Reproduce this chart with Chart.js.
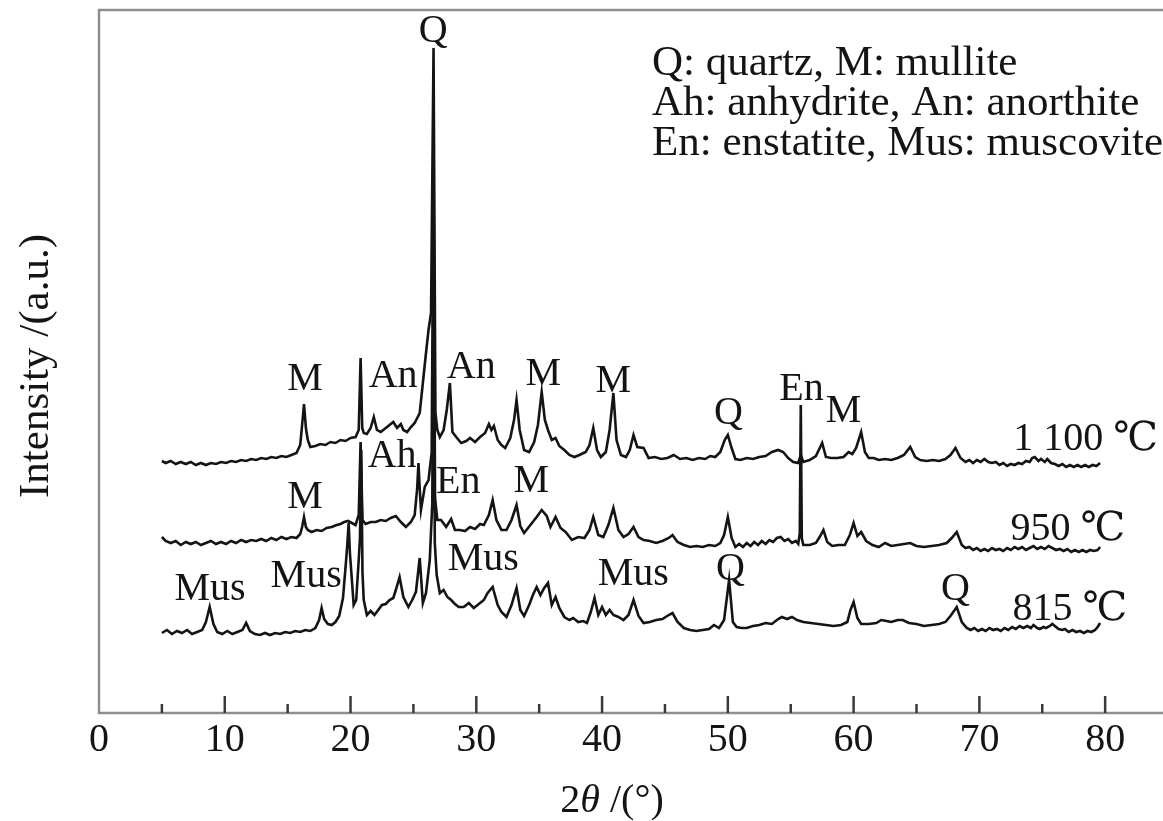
<!DOCTYPE html>
<html>
<head>
<meta charset="utf-8">
<script src="https://cdn.jsdelivr.net/npm/chart.js@4.4.1/dist/chart.umd.min.js"></script>
<style>
html,body{margin:0;padding:0;background:#fff;overflow:hidden}
canvas{display:block}
</style>
</head>
<body>
<canvas id="xrd" width="1163" height="821"></canvas>
<script>
// XRD patterns, [2theta, intensity a.u.] - traces are stacked (offset already in values)
const xrd815 = [[5.0,80],[5.4,83],[5.8,79],[6.2,82],[6.6,80],[7.0,83],[7.4,79],[7.8,81],[8.2,83],[8.5,91],[8.8,106],[9.1,89],[9.4,81],[9.8,79],[10.2,82],[10.6,79],[11.0,81],[11.4,83],[11.7,90],[12.0,82],[12.4,79],[12.8,78],[13.2,80],[13.6,78],[14.0,80],[14.4,79],[14.8,81],[15.2,80],[15.6,82],[16.0,81],[16.4,83],[16.8,82],[17.2,85],[17.5,93],[17.7,105],[17.9,94],[18.2,89],[18.5,88],[18.8,91],[19.1,97],[19.4,115],[19.65,153],[19.75,170],[19.85,190],[19.95,160],[20.05,143],[20.25,108],[20.45,113],[20.65,153],[20.75,175],[20.85,263],[20.95,140],[21.05,113],[21.3,98],[21.6,102],[21.9,98],[22.2,103],[22.5,108],[22.8,109],[23.1,113],[23.4,115],[23.6,123],[23.9,136],[24.2,116],[24.6,106],[24.9,113],[25.2,121],[25.5,155],[25.75,110],[26.0,120],[26.3,153],[26.5,210],[26.6,450],[26.7,170],[26.85,138],[27.1,120],[27.4,123],[27.7,116],[28.0,113],[28.3,109],[28.6,106],[29.0,106],[29.4,110],[29.8,105],[30.2,109],[30.6,113],[30.9,120],[31.3,126],[31.7,108],[32.0,101],[32.4,96],[32.8,108],[33.2,125],[33.5,103],[33.8,97],[34.2,108],[34.5,118],[34.8,126],[35.1,118],[35.4,125],[35.7,130],[36.0,108],[36.3,116],[36.6,105],[37.0,96],[37.4,93],[37.7,95],[38.1,91],[38.5,92],[38.8,90],[39.1,101],[39.4,115],[39.7,98],[40.0,106],[40.3,98],[40.6,103],[40.9,98],[41.3,96],[41.7,93],[42.1,98],[42.5,113],[42.9,97],[43.3,90],[43.8,91],[44.3,93],[44.8,94],[45.3,98],[45.6,100],[46.0,91],[46.5,85],[47.0,83],[47.5,82],[48.0,83],[48.5,84],[48.9,88],[49.3,85],[49.7,93],[50.1,133],[50.4,91],[50.7,86],[51.1,85],[51.5,85],[52.0,87],[52.5,88],[53.0,90],[53.5,89],[54.0,94],[54.3,96],[54.7,94],[55.1,96],[55.5,93],[56.0,91],[56.6,90],[57.2,89],[57.8,88],[58.4,87],[59.0,88],[59.5,91],[59.75,103],[60.0,111],[60.3,95],[60.6,89],[61.2,89],[61.8,90],[62.2,93],[62.6,92],[63.0,91],[63.5,93],[63.9,93],[64.4,90],[65.0,89],[65.6,87],[66.2,88],[66.8,89],[67.3,91],[67.7,97],[68.2,106],[68.6,91],[69.0,85],[69.3,83],[69.6,85],[69.9,82],[70.2,84],[70.5,82],[70.8,85],[71.1,83],[71.4,84],[71.7,82],[72.0,85],[72.3,83],[72.6,86],[72.9,84],[73.2,87],[73.5,85],[73.8,87],[74.1,85],[74.3,88],[74.6,85],[74.8,84],[75.1,86],[75.3,85],[75.6,87],[75.8,89],[76.1,86],[76.3,84],[76.6,83],[76.8,84],[77.1,81],[77.4,83],[77.7,81],[78.0,82],[78.3,80],[78.6,82],[78.9,81],[79.2,83],[79.4,86],[79.6,90]];

const xrd950 = [[5.0,176],[5.3,172],[5.7,170],[6.1,172],[6.5,168],[6.9,171],[7.3,169],[7.7,171],[8.1,168],[8.5,170],[8.9,172],[9.3,169],[9.7,171],[10.1,169],[10.5,172],[10.9,170],[11.3,173],[11.7,171],[12.1,173],[12.5,172],[12.9,174],[13.3,172],[13.7,175],[14.1,173],[14.5,176],[14.9,174],[15.3,176],[15.7,175],[16.0,179],[16.15,186],[16.3,196],[16.45,186],[16.6,183],[16.9,181],[17.3,183],[17.7,182],[18.1,185],[18.5,186],[18.9,188],[19.2,189],[19.5,191],[19.8,192],[20.1,190],[20.4,188],[20.65,198],[20.8,271],[20.95,193],[21.2,189],[21.6,191],[22.0,191],[22.4,193],[22.8,192],[23.2,195],[23.6,197],[24.0,191],[24.4,186],[24.8,191],[25.1,198],[25.3,225],[25.4,250],[25.5,225],[25.6,203],[25.9,226],[26.2,233],[26.45,260],[26.6,546],[26.72,215],[26.9,193],[27.2,193],[27.6,186],[28.0,194],[28.3,183],[28.7,183],[29.1,182],[29.5,186],[29.9,184],[30.3,189],[30.6,188],[31.0,198],[31.3,213],[31.6,193],[32.0,183],[32.4,183],[32.8,193],[33.2,208],[33.5,187],[33.8,180],[34.3,188],[34.8,196],[35.2,203],[35.6,197],[35.9,186],[36.3,196],[36.7,185],[37.1,181],[37.6,173],[38.1,176],[38.6,175],[39.0,183],[39.3,196],[39.7,178],[40.1,176],[40.5,188],[40.9,205],[41.3,183],[41.7,176],[42.1,179],[42.5,186],[42.9,176],[43.3,173],[43.8,172],[44.3,170],[44.8,172],[45.3,175],[45.6,178],[46.0,171],[46.5,168],[47.0,166],[47.5,167],[48.0,166],[48.5,168],[49.0,167],[49.4,170],[49.7,178],[50.0,196],[50.3,175],[50.6,166],[50.9,169],[51.2,166],[51.5,170],[51.8,167],[52.1,171],[52.4,168],[52.7,172],[53.0,169],[53.3,173],[53.6,171],[53.9,175],[54.2,176],[54.5,172],[54.8,174],[55.1,170],[55.4,172],[55.6,169],[55.72,180],[55.8,308],[55.88,175],[56.0,168],[56.5,168],[57.0,170],[57.3,176],[57.6,183],[57.9,171],[58.3,167],[58.8,168],[59.3,168],[59.7,178],[60.0,190],[60.3,177],[60.6,181],[61.0,172],[61.5,168],[62.0,166],[62.5,170],[63.0,167],[63.5,168],[64.0,169],[64.5,170],[65.0,167],[65.6,166],[66.2,167],[66.8,168],[67.4,170],[67.8,175],[68.2,181],[68.6,168],[68.9,165],[69.2,166],[69.5,163],[69.8,165],[70.1,162],[70.4,164],[70.7,162],[71.0,165],[71.3,163],[71.6,164],[71.9,162],[72.2,165],[72.5,163],[72.8,166],[73.1,164],[73.4,166],[73.7,163],[74.0,165],[74.3,167],[74.6,164],[74.9,166],[75.2,164],[75.5,167],[75.8,165],[76.1,163],[76.4,164],[76.7,162],[77.0,164],[77.3,161],[77.6,163],[77.9,161],[78.2,163],[78.5,161],[78.8,163],[79.1,162],[79.4,163],[79.6,166]];

const xrd1100 = [[5.0,252],[5.3,250],[5.7,252],[6.1,249],[6.5,251],[6.9,249],[7.3,251],[7.7,248],[8.1,250],[8.5,248],[8.9,250],[9.3,249],[9.7,251],[10.1,250],[10.5,252],[10.9,251],[11.3,253],[11.7,252],[12.1,254],[12.5,253],[12.9,255],[13.3,254],[13.7,256],[14.1,255],[14.5,257],[14.9,256],[15.3,258],[15.7,260],[16.0,268],[16.15,288],[16.3,309],[16.45,285],[16.6,273],[16.8,266],[17.2,267],[17.6,269],[18.0,268],[18.4,271],[18.8,270],[19.2,273],[19.6,272],[20.0,275],[20.4,276],[20.65,283],[20.8,355],[20.93,285],[21.05,280],[21.3,279],[21.6,285],[21.85,296],[22.1,283],[22.4,281],[22.8,285],[23.1,288],[23.4,291],[23.7,285],[24.0,289],[24.2,283],[24.5,281],[24.8,286],[25.1,290],[25.5,300],[25.75,330],[26.0,360],[26.2,383],[26.4,400],[26.6,665],[26.75,300],[26.9,283],[27.1,276],[27.4,283],[27.65,303],[27.9,330],[28.1,281],[28.4,276],[28.8,270],[29.2,272],[29.5,275],[29.9,271],[30.3,276],[30.7,280],[31.0,289],[31.2,283],[31.4,287],[31.7,273],[32.0,268],[32.3,265],[32.7,275],[33.0,293],[33.2,313],[33.45,283],[33.8,263],[34.2,261],[34.6,271],[34.9,288],[35.2,321],[35.45,293],[35.7,283],[36.0,273],[36.3,275],[36.6,267],[37.0,263],[37.4,258],[37.8,256],[38.2,258],[38.7,261],[39.0,268],[39.3,285],[39.6,263],[39.9,256],[40.3,261],[40.6,283],[40.9,320],[41.15,273],[41.5,258],[41.9,256],[42.2,263],[42.5,278],[42.8,266],[43.3,265],[43.7,255],[44.2,256],[44.7,254],[45.2,255],[45.7,258],[46.2,254],[46.7,255],[47.2,253],[47.7,255],[48.2,254],[48.6,257],[49.0,256],[49.4,261],[49.75,273],[50.0,278],[50.3,265],[50.6,254],[51.0,253],[51.5,255],[52.0,254],[52.5,256],[53.0,257],[53.5,261],[54.0,263],[54.4,261],[54.8,255],[55.2,251],[55.6,250],[55.8,258],[56.0,251],[56.5,253],[57.0,257],[57.5,270],[57.8,256],[58.2,255],[58.7,255],[59.2,256],[59.6,261],[59.9,259],[60.2,265],[60.6,281],[60.9,261],[61.2,255],[61.6,255],[62.0,253],[62.5,254],[63.0,253],[63.5,255],[64.0,258],[64.5,266],[64.9,256],[65.3,253],[65.8,252],[66.3,253],[66.8,252],[67.3,254],[67.7,258],[68.1,265],[68.5,255],[68.9,251],[69.2,253],[69.5,250],[69.8,253],[70.1,251],[70.4,254],[70.7,251],[71.0,250],[71.3,251],[71.6,248],[71.9,250],[72.2,247],[72.5,249],[72.8,248],[73.1,250],[73.4,249],[73.7,252],[74.0,251],[74.2,255],[74.4,256],[74.7,252],[74.9,254],[75.2,251],[75.4,254],[75.7,250],[76.0,249],[76.3,247],[76.6,249],[76.9,246],[77.2,248],[77.5,246],[77.8,248],[78.1,246],[78.4,248],[78.7,246],[79.0,248],[79.3,247],[79.6,250]];

const xTicks = [0,10,20,30,40,50,60,70,80];

// phase labels: [text, 2theta, intensity (baseline of text)]
const peakLabels = [
  ["Q",26.57,671],["M",16.39,323],["An",23.39,326],["An",29.6,335],["M",35.32,328],["M",40.89,321],
  ["Q",50.04,289],["En",55.85,313],["M",59.19,291],
  ["M",16.39,205],["Ah",23.31,246],["En",28.56,220],["M",34.37,221],
  ["Mus",8.83,113],["Mus",16.47,126],["Mus",30.55,143],["Mus",42.48,128],["Q",50.2,133],["Q",68.1,113]
];
const tempLabels = [["1 100 \u2103",72.7,263],["950 \u2103",72.47,173],["815 \u2103",72.63,93]];
const legendLines = ["Q: quartz, M: mullite","Ah: anhydrite, An: anorthite","En: enstatite, Mus: muscovite"];

const SERIF = '"Liberation Serif","Times New Roman","DejaVu Serif",serif';
const INK = '#141414';

const decor = {
  id:'decor',
  afterDraw(chart){
    const {ctx, chartArea:a, scales:{x,y}} = chart;
    ctx.save();
    // frame (no right side visible)
    ctx.strokeStyle='#8e8e8e';
    ctx.lineWidth=2.5;
    ctx.beginPath();
    ctx.moveTo(chart.width,a.top);
    ctx.lineTo(a.left,a.top);
    ctx.lineTo(a.left,a.bottom);
    ctx.lineTo(chart.width,a.bottom);
    ctx.stroke();

    // inward ticks
    ctx.strokeStyle='#3a3a3a';
    ctx.lineWidth=2.5;
    for(let v=5; v<=x.max; v+=5){
      const px=x.getPixelForValue(v);
      const len=(v%10===0)?17:9;
      ctx.beginPath();
      ctx.moveTo(px,a.bottom);
      ctx.lineTo(px,a.bottom-len);
      ctx.stroke();
    }

    ctx.fillStyle=INK;
    ctx.textBaseline='alphabetic';
    ctx.font='40px '+SERIF;
    ctx.textAlign='center';
    peakLabels.forEach(([t,tx,ty])=>{
      ctx.fillText(t,x.getPixelForValue(tx),y.getPixelForValue(ty));
    });
    ctx.textAlign='left';
    tempLabels.forEach(([t,tx,ty])=>{
      ctx.fillText(t,x.getPixelForValue(tx),y.getPixelForValue(ty));
    });

    // legend text
    ctx.font='43px '+SERIF;
    legendLines.forEach((l,i)=>ctx.fillText(l,652,75+i*40));

    // x title: 2θ /(°)
    ctx.font='40px '+SERIF;
    const p1='2', p3=' /(\u00b0)';
    const w1=ctx.measureText(p1).width, w3=ctx.measureText(p3).width;
    ctx.font='italic 40px '+SERIF;
    const w2=ctx.measureText('\u03b8').width;
    let sx=612-(w1+w2+w3)/2;
    ctx.font='40px '+SERIF;
    ctx.fillText(p1,sx,812);
    ctx.font='italic 40px '+SERIF;
    ctx.fillText('\u03b8',sx+w1,812);
    ctx.font='40px '+SERIF;
    ctx.fillText(p3,sx+w1+w2,812);

    // y title
    ctx.translate(48,366);
    ctx.rotate(-Math.PI/2);
    ctx.textAlign='center';
    ctx.font='43px '+SERIF;
    ctx.fillText('Intensity /(a.u.)',0,0);
    ctx.restore();
  }
};

const toXY = arr => arr.map(([t,v])=>({x:t,y:v}));
const lineStyle = {borderColor:INK, borderWidth:2.6, pointRadius:0, tension:0, fill:false};

new Chart(document.getElementById('xrd'),{
  type:'line',
  data:{
    datasets:[
      {label:'815 \u2103',data:toXY(xrd815),...lineStyle},
      {label:'950 \u2103',data:toXY(xrd950),...lineStyle},
      {label:'1 100 \u2103',data:toXY(xrd1100),...lineStyle}
    ]
  },
  options:{
    responsive:false,
    animation:false,
    devicePixelRatio:1,
    layout:{padding:{left:99,top:10,right:0,bottom:0}},
    plugins:{legend:{display:false},tooltip:{enabled:false},decor:{}},
    scales:{
      x:{
        type:'linear',min:0,max:84.6,
        grid:{display:false,drawTicks:false},
        border:{display:false},
        afterBuildTicks:s=>{s.ticks=xTicks.map(v=>({value:v}));},
        afterFit:s=>{s.height=108;},
        ticks:{padding:3,color:INK,font:{family:SERIF,size:40},maxRotation:0,autoSkip:false}
      },
      y:{display:false,min:0,max:703}
    }
  },
  plugins:[decor]
});
</script>
</body>
</html>
